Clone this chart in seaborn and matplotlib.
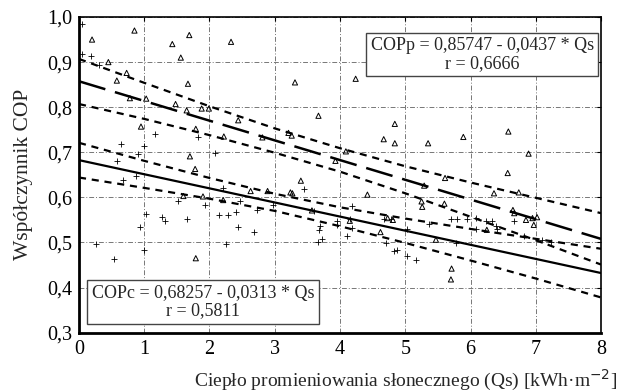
import numpy as np
import pandas as pd
import matplotlib
matplotlib.use("Agg")
import matplotlib.pyplot as plt
from matplotlib.ticker import FuncFormatter
import seaborn as sns

copp_qs = [0.20, 0.85, 1.69, 1.43, 1.56, 2.33, 0.45, 0.73, 0.58, 1.67, 3.31, 0.78,
           1.03, 1.48, 1.65, 1.88, 1.99, 3.67, 2.44, 0.95, 1.79, 2.22, 2.81, 3.21,
           3.26, 1.70, 1.78, 3.40, 2.63, 2.89, 3.24, 3.27, 1.60, 1.90, 2.21, 1.79,
           3.57, 4.24, 4.84, 4.67, 4.84, 5.35, 5.89, 6.58, 6.89, 6.57, 5.61, 5.29,
           6.36, 6.74, 4.09, 3.93, 4.42, 5.25, 5.26, 5.60, 6.65, 6.67, 6.85, 6.95,
           6.97, 7.02, 4.15, 4.62, 4.73, 4.81, 5.47, 5.71, 5.70, 6.25]
copp_val = [0.950, 0.970, 0.960, 0.940, 0.910, 0.945, 0.900, 0.876, 0.859, 0.852, 0.855, 0.820,
            0.819, 0.807, 0.793, 0.797, 0.797, 0.781, 0.771, 0.757, 0.752, 0.735, 0.733, 0.743,
            0.737, 0.691, 0.663, 0.637, 0.614, 0.614, 0.611, 0.609, 0.603, 0.602, 0.594, 0.465,
            0.571, 0.863, 0.763, 0.729, 0.720, 0.720, 0.734, 0.746, 0.697, 0.654, 0.643, 0.626,
            0.609, 0.611, 0.702, 0.681, 0.606, 0.591, 0.579, 0.586, 0.572, 0.565, 0.550, 0.554,
            0.539, 0.556, 0.548, 0.523, 0.554, 0.550, 0.506, 0.442, 0.418, 0.528]

# measured points: COPc (plus signs)
copc_qs = [0.05, 0.04, 0.18, 0.31, 1.17, 1.82, 0.64, 0.99, 0.90, 2.08, 0.58, 0.87,
           0.67, 2.20, 3.45, 1.51, 1.93, 1.03, 1.27, 1.32, 1.65, 0.94, 2.15, 2.29,
           2.41, 2.47, 2.44, 2.68, 2.73, 2.98, 2.26, 0.26, 0.99, 0.54, 3.70, 3.68,
           3.66, 3.72, 3.95, 3.95, 4.11, 4.19, 4.19, 4.71, 4.83, 4.88, 5.03, 5.16,
           4.67, 4.78, 5.03, 5.36, 5.78, 5.70, 5.80, 5.95, 6.08, 6.08, 6.23, 6.33,
           6.40, 6.39, 6.67, 6.82, 7.10, 7.23, 4.16, 3.60]
copc_val = [0.985, 0.917, 0.913, 0.893, 0.740, 0.734, 0.718, 0.715, 0.697, 0.698, 0.680, 0.648,
            0.639, 0.620, 0.618, 0.591, 0.583, 0.562, 0.556, 0.548, 0.552, 0.534, 0.561, 0.561,
            0.568, 0.591, 0.534, 0.523, 0.571, 0.583, 0.497, 0.497, 0.483, 0.463, 0.537, 0.528,
            0.502, 0.507, 0.547, 0.539, 0.514, 0.533, 0.580, 0.499, 0.480, 0.483, 0.470, 0.461,
            0.552, 0.552, 0.530, 0.542, 0.498, 0.552, 0.552, 0.552, 0.554, 0.530, 0.548, 0.548,
            0.530, 0.537, 0.548, 0.514, 0.505, 0.501, 0.552, 0.570]

# regression coefficients printed on the chart
copp_a, copp_b, copp_r = 0.85747, -0.0437, "0,6666"
copc_a, copc_b, copc_r = 0.68257, -0.0313, "0,5811"

# confidence bands read at integer Qs
band_qs = [0, 1, 2, 3, 4, 5, 6, 7, 8]
copp_upper = [0.907, 0.854, 0.802, 0.753, 0.709, 0.669, 0.633, 0.599, 0.565]
copp_lower = [0.807, 0.774, 0.738, 0.699, 0.657, 0.609, 0.557, 0.505, 0.451]
copc_upper = [0.721, 0.681, 0.643, 0.608, 0.578, 0.553, 0.530, 0.508, 0.486]
copc_lower = [0.644, 0.621, 0.597, 0.570, 0.536, 0.499, 0.460, 0.420, 0.378]

x_ticks = [0, 1, 2, 3, 4, 5, 6, 7, 8]
y_ticks = [0.3, 0.4, 0.5, 0.6, 0.7, 0.8, 0.9, 1.0]

sns.set_style("white")
plt.rcParams["font.family"] = ["Liberation Serif", "DejaVu Serif"]

fig = plt.figure(figsize=(6.23, 3.92), dpi=100)
ax = fig.add_axes([0.1268, 0.1515, 0.8379, 0.8051])

fit_qs = np.array([0.0, 8.0])
lines = pd.DataFrame({
    "qs": fit_qs,
    "copp": copp_a + copp_b * fit_qs,
    "copc": copc_a + copc_b * fit_qs,
})

short = (0, (3.2, 2.6))
for vals in (copp_upper, copp_lower, copc_upper, copc_lower):
    sns.lineplot(x=band_qs, y=vals, ax=ax, color="black", linewidth=1.6,
                 linestyle=short, sort=True)
sns.lineplot(data=lines, x="qs", y="copp", ax=ax, color="black", linewidth=1.8,
             linestyle=(0, (11, 4)))
sns.lineplot(data=lines, x="qs", y="copc", ax=ax, color="black", linewidth=1.6)

sns.scatterplot(x=copp_qs, y=copp_val, ax=ax, marker="^", s=14,
                facecolor="none", edgecolor="black", linewidth=0.7, zorder=3)
sns.scatterplot(x=copc_qs, y=copc_val, ax=ax, marker="+", s=22,
                color="black", linewidth=0.6, zorder=3)

ax.set_xlim(0, 8)
ax.set_ylim(0.3, 1.0)
ax.set_xticks(x_ticks)
ax.set_yticks(y_ticks)
ax.xaxis.set_major_formatter(FuncFormatter(lambda v, p: f"{v:.0f}"))
ax.yaxis.set_major_formatter(FuncFormatter(lambda v, p: f"{v:.1f}".replace(".", ",")))
ax.tick_params(axis="both", labelsize=14.5, direction="in", length=3, width=0.8,
               top=True, right=True, colors="black", pad=5)
ax.grid(True, color="#777777", linestyle=(0, (5, 2, 1, 2)), linewidth=0.7)
for side, sp in ax.spines.items():
    sp.set_color("black")
    sp.set_linewidth(2.0 if side in ("left", "bottom") else 1.2)

ax.set_xlabel("")
ax.set_ylabel("Współczynnik COP", fontsize=15.5, labelpad=10)

box = dict(boxstyle="square,pad=0.25", facecolor="white", edgecolor="#444444", linewidth=1.0)
ax.text(6.18, 0.917, f"COPp = 0,85747 - 0,0437 * Qs\nr = {copp_r}", fontsize=13,
        ha="center", va="center", linespacing=1.05, bbox=box, zorder=5)
ax.text(1.90, 0.368, f"COPc = 0,68257 - 0,0313 * Qs\nr = {copc_r}", fontsize=13,
        ha="center", va="center", linespacing=1.05, bbox=box, zorder=5)

fig.text(0.99, 0.03, "Ciepło promieniowania słonecznego (Qs) [kWh·m$^{-2}$]",
         fontsize=14, ha="right", va="center")

fig.savefig("out.png", dpi=100)
plt.close(fig)
